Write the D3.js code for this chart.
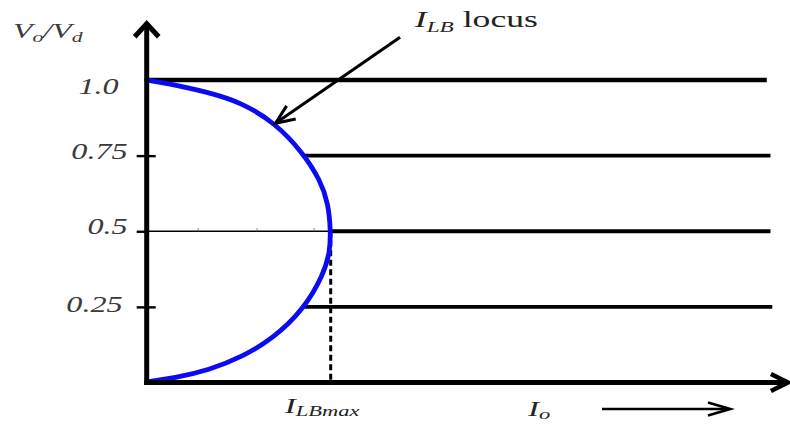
<!DOCTYPE html>
<html>
<head>
<meta charset="utf-8">
<script src="https://cdn.jsdelivr.net/npm/d3@7"></script>
<style>
  html, body { margin: 0; padding: 0; background: #fff; }
  svg { display: block; }
  text { font-family: "Liberation Serif", "Times New Roman", serif; font-style: italic; }
</style>
</head>
<body>
<svg id="chart" width="790" height="426"></svg>
<script>
// Constant output-voltage ratios (Vo/Vd = D) shown as horizontal lines
const levels = [1.0, 0.75, 0.5, 0.25];
const levelLabels = ["1.0", "0.75", "0.5", "0.25"];
// Io at which each constant-D line begins and ends (Io in units of I_LBmax)
const levelStart = [0, 0.85, 1.0, 0.85];
const levelEnd = [3.37, 3.39, 3.39, 3.40];

// Boundary-conduction current locus: Io / I_LBmax against Vo/Vd
const locusIo = [0, 0.109, 0.326, 0.515, 0.700, 0.851, 0.942, 0.987, 1.0, 0.996, 0.960, 0.851, 0.688, 0.520, 0.340, 0.145, 0.018, 0];
const locusV  = [1.0, 0.989, 0.961, 0.926, 0.857, 0.758, 0.670, 0.593, 0.5, 0.432, 0.355, 0.240, 0.146, 0.085, 0.041, 0.014, 0.005, 0];

// Peak of the locus
const iLBmax = 1.0;
const vAtMax = 0.5;

// Small minor ticks along the D = 0.5 line, inside the locus
const minorTicks = [0.28, 0.6, 0.91];

const svg = d3.select("#chart");
const x = d3.scaleLinear().domain([0, 3.5]).range([146.7, 790.7]);
const y = d3.scaleLinear().domain([0, 1]).range([382.5, 80]);

const ink = "#000";
const textInk = "#3a3a3a";

// arrowhead as an open chevron at (tx,ty) pointing along (dx,dy)
function chevron(g, tx, ty, dx, dy, len, half, width) {
  const n = Math.hypot(dx, dy), ux = dx / n, uy = dy / n;
  const bx = tx - ux * len, by = ty - uy * len;
  const px = -uy * half, py = ux * half;
  g.append("path")
    .attr("d", `M${bx + px},${by + py}L${tx},${ty}L${bx - px},${by - py}`)
    .attr("fill", "none").attr("stroke", ink)
    .attr("stroke-width", width).attr("stroke-linejoin", "miter").attr("stroke-linecap", "butt");
}

// thin segment of D = 0.5 from the axis to the locus peak
svg.append("line")
  .attr("x1", x(0)).attr("x2", x(iLBmax))
  .attr("y1", y(vAtMax)).attr("y2", y(vAtMax))
  .attr("stroke", ink).attr("stroke-width", 1.6);
svg.selectAll("line.minor").data(minorTicks).join("line")
  .attr("class", "minor")
  .attr("x1", d => x(d)).attr("x2", d => x(d))
  .attr("y1", y(vAtMax) - 3).attr("y2", y(vAtMax))
  .attr("stroke", "#777").attr("stroke-width", 1);

// constant-D lines
svg.selectAll("line.level").data(levels).join("line")
  .attr("class", "level")
  .attr("x1", (d, i) => x(levelStart[i])).attr("x2", (d, i) => x(levelEnd[i]))
  .attr("y1", d => y(d)).attr("y2", d => y(d))
  .attr("stroke", ink).attr("stroke-width", (d, i) => i === 0 ? 4.6 : 3.8);

// dashed drop line at I_LBmax
svg.append("line")
  .attr("x1", x(iLBmax)).attr("x2", x(iLBmax))
  .attr("y1", y(vAtMax)).attr("y2", y(0))
  .attr("stroke", ink).attr("stroke-width", 3)
  .attr("stroke-dasharray", "6,3.5");

// locus curve, smoothed through the sampled points
const locus = d3.line()
  .x(d => x(d[0])).y(d => y(d[1]))
  .curve(d3.curveBasis);
svg.append("path")
  .datum(d3.zip(locusIo, locusV))
  .attr("d", locus)
  .attr("fill", "none").attr("stroke", "#0a0af5")
  .attr("stroke-width", 4.8).attr("stroke-linecap", "round");

// axes with arrowheads
const axes = svg.append("g");
axes.append("line")
  .attr("x1", x(0)).attr("x2", x(0))
  .attr("y1", y(0) + 2.5).attr("y2", y(1.186))
  .attr("stroke", ink).attr("stroke-width", 5);
chevron(axes, x(0), y(1.186), 0, -1, 13, 12, 5);
axes.append("line")
  .attr("x1", x(0) - 2.5).attr("x2", x(3.485))
  .attr("y1", y(0)).attr("y2", y(0))
  .attr("stroke", ink).attr("stroke-width", 5);
chevron(axes, x(3.485), y(0), 1, 0, 17, 8.5, 4.5);

// y tick marks and labels
const labelPos = { "1": [-28, 13], "0.75": [-19, 3], "0.5": [-19, 2], "0.25": [-24, 5] };
const yAxis = d3.axisLeft(y)
  .tickValues(levels)
  .tickFormat((d, i) => levelLabels[i])
  .tickSizeOuter(0);
const gy = svg.append("g").attr("transform", `translate(${x(0)},0)`).call(yAxis);
gy.select(".domain").remove();
gy.selectAll(".tick line")
  .attr("x1", -10).attr("x2", d => d === vAtMax ? 0 : 9)
  .attr("stroke", ink).attr("stroke-width", 2.4)
  .attr("display", d => d === 1 ? "none" : null);
gy.selectAll(".tick text")
  .attr("x", null).attr("dy", null)
  .attr("text-anchor", "end")
  .attr("font-size", 23)
  .attr("font-family", "Liberation Serif, serif")
  .attr("fill", textInk)
  .attr("transform", d => {
    const p = labelPos[String(d)];
    return `translate(${p[0]},${p[1]}) scale(1.4,1)`;
  });

// Vo/Vd axis title
const yTitle = svg.append("text")
  .attr("transform", "translate(13,38) scale(1.45,1)")
  .attr("font-size", 22).attr("fill", textInk);
yTitle.append("tspan").text("V");
yTitle.append("tspan").attr("font-size", 15).attr("dy", 4).text("o");
yTitle.append("tspan").attr("dy", -4).text("/V");
yTitle.append("tspan").attr("font-size", 15).attr("dy", 4).text("d");

// I_LB locus annotation with arrow
const annStart = [1.377, 1.141];
const annTip = [locusIo[4], locusV[4]];
const ann = svg.append("g");
ann.append("line")
  .attr("x1", x(annStart[0])).attr("y1", y(annStart[1]))
  .attr("x2", x(annTip[0])).attr("y2", y(annTip[1]))
  .attr("stroke", ink).attr("stroke-width", 3);
chevron(ann, x(annTip[0]), y(annTip[1]),
  x(annTip[0]) - x(annStart[0]), y(annTip[1]) - y(annStart[1]), 19, 8, 3);
const annText = svg.append("text")
  .attr("transform", `translate(${x(1.457)},27) scale(1.55,1)`)
  .attr("font-size", 23).attr("fill", "#222");
annText.append("tspan").text("I");
annText.append("tspan").attr("font-size", 15).attr("dy", 5).text("LB");
annText.append("tspan").attr("dy", -5).attr("font-style", "normal").text(" locus");

// x labels
const xl1 = svg.append("text")
  .attr("transform", `translate(${x(iLBmax) - 46},413) scale(1.5,1)`)
  .attr("font-size", 22).attr("fill", "#222");
xl1.append("tspan").text("I");
xl1.append("tspan").attr("font-size", 15).attr("dy", 3).text("LBmax");

const xl2 = svg.append("text")
  .attr("transform", "translate(528,416) scale(1.5,1)")
  .attr("font-size", 22).attr("fill", "#222");
xl2.append("tspan").text("I");
xl2.append("tspan").attr("font-size", 15).attr("dy", 3).text("o");

// direction-of-increase arrow beside Io
const io = svg.append("g");
io.append("line")
  .attr("x1", 602).attr("x2", 729)
  .attr("y1", 409).attr("y2", 409)
  .attr("stroke", ink).attr("stroke-width", 2.4);
chevron(io, 730, 409, 1, 0, 22, 6.5, 2.8);
</script>
</body>
</html>
